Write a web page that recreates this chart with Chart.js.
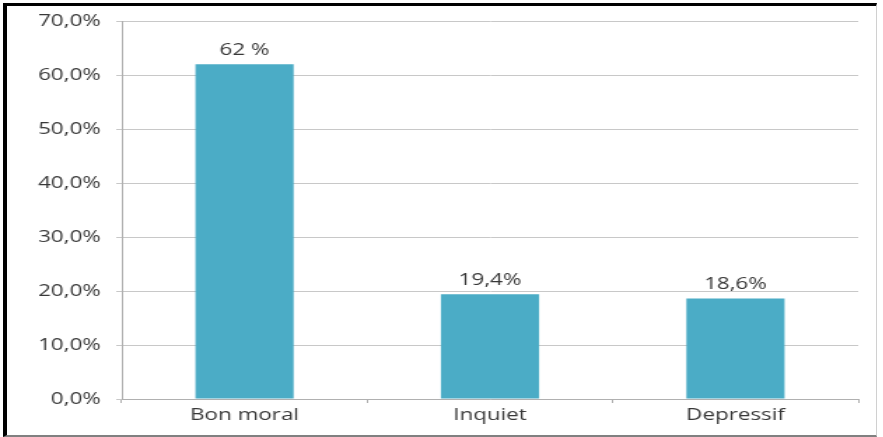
<!DOCTYPE html>
<html>
<head>
<meta charset="utf-8">
<script src="https://cdn.jsdelivr.net/npm/chart.js@4"></script>
<style>
  html, body { margin: 0; padding: 0; background: #fff; }
  #wrap { position: relative; width: 883px; height: 437px; overflow: hidden; }
  /* the chart is drawn narrow and stretched sideways */
  #stretch { position: absolute; left: 0; top: 0; width: 631px; height: 437px;
             transform: scaleX(1.4); transform-origin: 0 0; }
  #frame { position: absolute; left: 3px; top: 3px; width: 869px; height: 429px;
           border-left: 4px solid #000; border-top: 3px solid #000;
           border-right: 1px solid #d0d0d0; border-bottom: 2px solid #808080;
           pointer-events: none; }
</style>
</head>
<body>
<div id="wrap">
  <div id="stretch"><canvas id="myChart" width="631" height="437"></canvas></div>
  <div id="frame"></div>
</div>
<script>
// data
const categories = ['Bon moral', 'Inquiet', 'Depressif'];
const values = [62, 19.4, 18.6];
const valueLabels = ['62 %', '19,4%', '18,6%'];
const yTicks = [0, 10, 20, 30, 40, 50, 60, 70];

const textColor = '#383838';
const font = { family: '"Open Sans", sans-serif', size: 16 };

// value labels above each bar
const barLabels = {
    id: 'barLabels',
    afterDatasetsDraw(chart) {
        const ctx = chart.ctx;
        const meta = chart.getDatasetMeta(0);
        ctx.save();
        ctx.font = '16px "Open Sans", sans-serif';
        ctx.fillStyle = textColor;
        ctx.textAlign = 'center';
        ctx.textBaseline = 'bottom';
        meta.data.forEach((bar, i) => {
            ctx.fillText(valueLabels[i], bar.x, bar.y - 6);
        });
        ctx.restore();
    }
};

// config
const config = {
    type: 'bar',
    data: {
        labels: categories,
        datasets: [{
            data: values,
            backgroundColor: '#4BACC6',
            barPercentage: 0.4,
            categoryPercentage: 1
        }]
    },
    options: {
        responsive: false,
        animation: false,
        devicePixelRatio: 1,
        layout: { padding: { top: 21, right: 18, left: 0, bottom: 0 } },
        plugins: {
            legend: { display: false },
            tooltip: { enabled: false }
        },
        scales: {
            x: {
                grid: { drawOnChartArea: false, offset: true, tickLength: 4, color: '#b0b0b0' },
                border: { color: '#b0b0b0' },
                ticks: { color: textColor, font: font, padding: 3 },
                afterFit(scale) { scale.height = 38; }
            },
            y: {
                min: 0,
                max: 70,
                afterBuildTicks(scale) { scale.ticks = yTicks.map(v => ({ value: v })); },
                grid: { color: '#c8c8c8', tickLength: 4 },
                border: { color: '#b0b0b0' },
                ticks: {
                    color: textColor,
                    font: font,
                    padding: 11,
                    callback: v => v.toFixed(1).replace('.', ',') + '%'
                },
                afterFit(scale) { scale.width = 87; }
            }
        }
    },
    plugins: [barLabels]
};

// render
const myChart = new Chart(document.getElementById('myChart'), config);
</script>
</body>
</html>
